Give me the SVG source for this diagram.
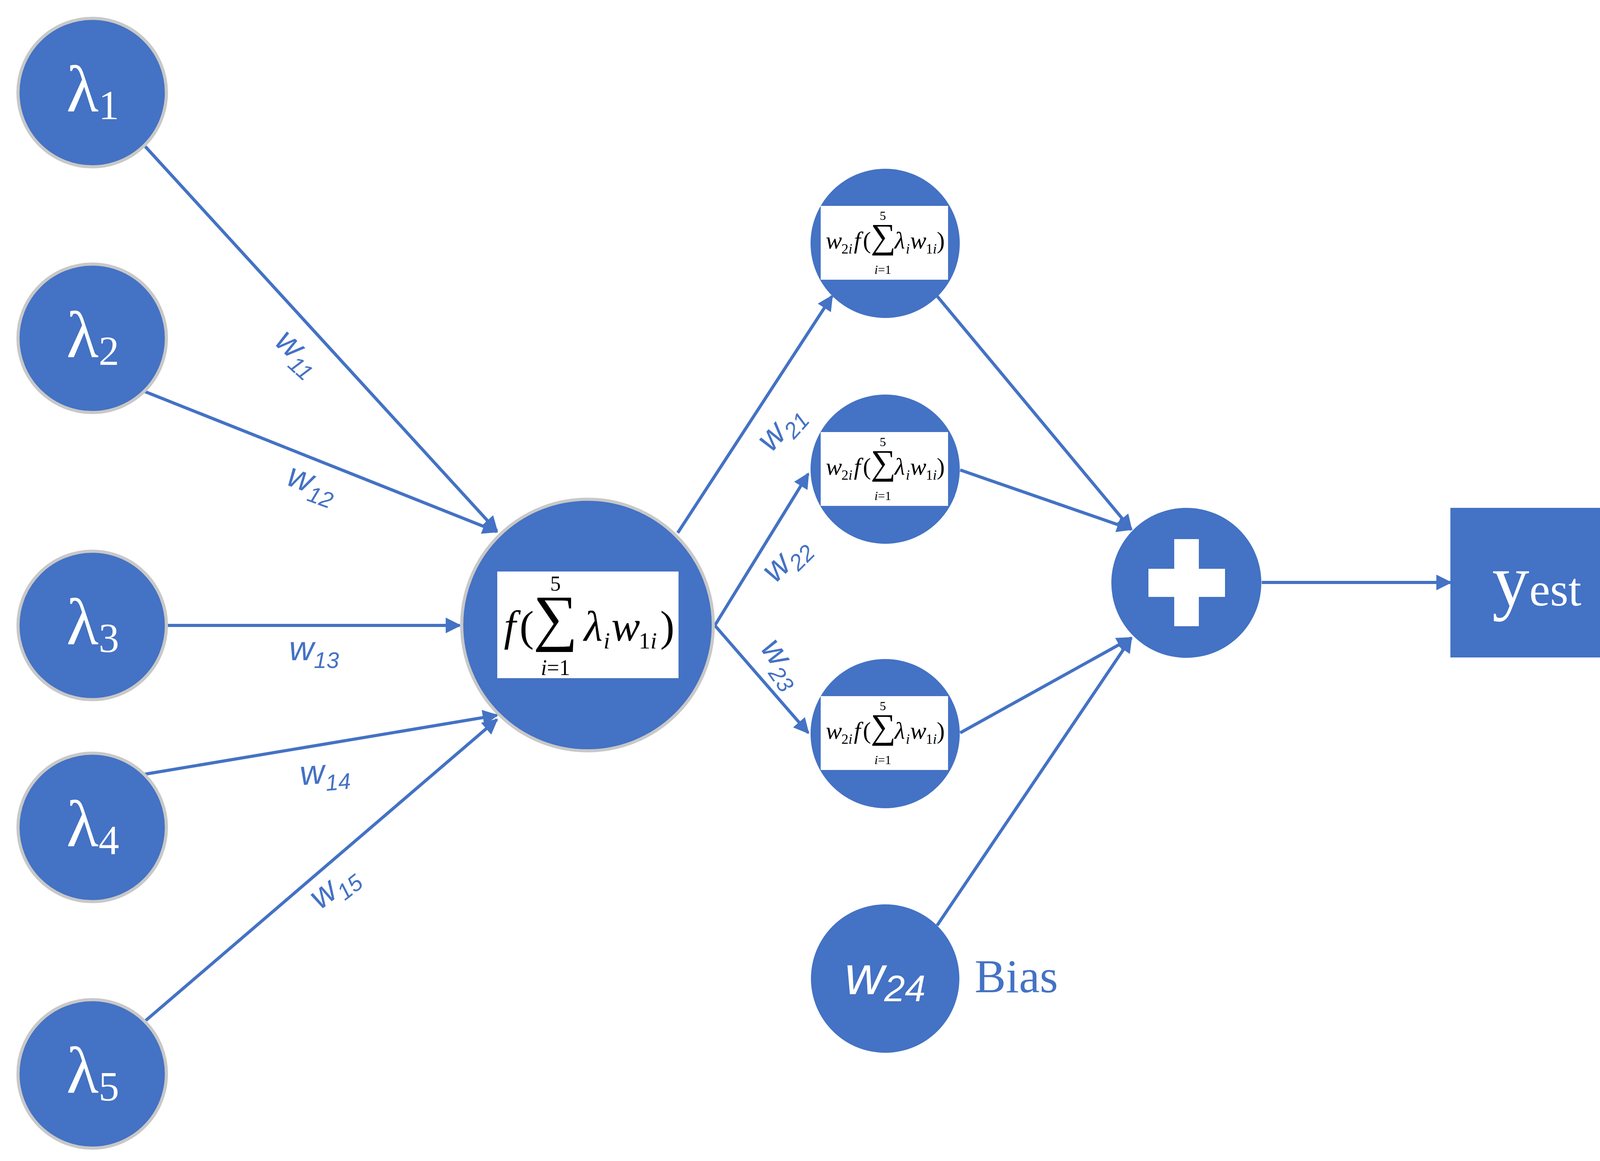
<svg xmlns="http://www.w3.org/2000/svg" xmlns:xlink="http://www.w3.org/1999/xlink" width="4268" height="2972" viewBox="0 0 4268 2972">
<style>
.n{fill:#4472C4}
.ns{fill:#4472C4;stroke:#C8C8C8;stroke-width:8}
.e{stroke:#4472C4;stroke-width:8;fill:none;marker-end:url(#ah)}
.lam{font-family:"Liberation Serif",serif;fill:#fff;font-size:170px}
.lsub{font-size:105px}
.wl{font-family:"Liberation Sans",sans-serif;font-style:italic;fill:#4472C4;font-size:88px}
.ws{font-size:58px}
.fm{font-family:"Liberation Serif",serif;fill:#000}
.it{font-style:italic}
</style>
<defs>
<marker id="ah" viewBox="0 0 10 10" refX="9" refY="5" markerWidth="50" markerHeight="40" markerUnits="userSpaceOnUse" orient="auto"><path d="M0,0 L10,5 L0,10 z" fill="#4472C4"/></marker>
<g id="hf">
<rect x="-163" y="-94" width="326" height="189" fill="#fff"/>
<text class="fm it" x="-150" y="15" font-size="62">w</text>
<text class="fm" x="-110" y="28" font-size="36">2<tspan class="it">i</tspan></text>
<text class="fm it" x="-78" y="15" font-size="62">f</text>
<text class="fm" x="-55" y="15" font-size="62">(</text>
<text class="fm" x="-35" y="14" font-size="90">∑</text>
<text class="fm" x="-4" y="-58" font-size="32" text-anchor="middle">5</text>
<text class="fm" x="-4" y="80" font-size="32" text-anchor="middle"><tspan class="it">i</tspan>=1</text>
<text class="fm it" x="26" y="15" font-size="62">λ</text>
<text class="fm it" x="55" y="28" font-size="36">i</text>
<text class="fm it" x="66" y="15" font-size="62">w</text>
<text class="fm" x="106" y="28" font-size="36">1<tspan class="it">i</tspan></text>
<text class="fm" x="134" y="15" font-size="62">)</text>
</g>
</defs>
<rect width="4268" height="2972" fill="#fff"/>
<g id="connectors">
<line class="e" x1="370" y1="373" x2="1272" y2="1359"/>
<line class="e" x1="370" y1="1002" x2="1272" y2="1361"/>
<line class="e" x1="426" y1="1601" x2="1177" y2="1601"/>
<line class="e" x1="370" y1="1982" x2="1272" y2="1831"/>
<line class="e" x1="370" y1="2615" x2="1272" y2="1842"/>
<line class="e" x1="1735" y1="1364" x2="2130" y2="758"/>
<line class="e" x1="1830" y1="1601" x2="2069" y2="1213"/>
<line class="e" x1="1830" y1="1601" x2="2069" y2="1876"/>
<line class="e" x1="2399" y1="758" x2="2896" y2="1355"/>
<line class="e" x1="2458" y1="1203" x2="2896" y2="1355"/>
<line class="e" x1="2458" y1="1876" x2="2896" y2="1633"/>
<line class="e" x1="2399" y1="2369" x2="2896" y2="1633"/>
<line class="e" x1="3230" y1="1491" x2="3713" y2="1491"/>
</g>
<g id="labels">
<text class="wl" transform="translate(700,880) rotate(42)">w<tspan class="ws" dy="20">11</tspan></text>
<text class="wl" transform="translate(730,1240) rotate(20)">w<tspan class="ws" dy="20">12</tspan></text>
<text class="wl" transform="translate(740,1690)">w<tspan class="ws" dy="20">13</tspan></text>
<text class="wl" transform="translate(770,2010) rotate(-5)">w<tspan class="ws" dy="20">14</tspan></text>
<text class="wl" transform="translate(820,2330) rotate(-38)">w<tspan class="ws" dy="20">15</tspan></text>
<text class="wl" transform="translate(1975,1160) rotate(-48)">w<tspan class="ws" dy="20">21</tspan></text>
<text class="wl" transform="translate(1985,1495) rotate(-45)">w<tspan class="ws" dy="20">22</tspan></text>
<text class="wl" transform="translate(1945,1660) rotate(55)">w<tspan class="ws" dy="20">23</tspan></text>
</g>
<g id="lambda1"><circle class="ns" cx="236" cy="237" r="190"/><text class="lam" x="170" y="285">λ<tspan class="lsub" dy="20">1</tspan></text></g>
<g id="lambda2"><circle class="ns" cx="236" cy="866" r="190"/><text class="lam" x="170" y="914">λ<tspan class="lsub" dy="20">2</tspan></text></g>
<g id="lambda3"><circle class="ns" cx="236" cy="1601" r="190"/><text class="lam" x="170" y="1649">λ<tspan class="lsub" dy="20">3</tspan></text></g>
<g id="lambda4"><circle class="ns" cx="236" cy="2118" r="190"/><text class="lam" x="170" y="2166">λ<tspan class="lsub" dy="20">4</tspan></text></g>
<g id="lambda5"><circle class="ns" cx="236" cy="2749" r="190"/><text class="lam" x="170" y="2797">λ<tspan class="lsub" dy="20">5</tspan></text></g>
<g id="hidden">
<circle class="ns" cx="1504" cy="1600" r="322"/>
<rect x="1273" y="1463" width="464" height="273" fill="#fff"/>
<text class="fm it" x="1290" y="1640" font-size="110">f</text>
<text class="fm" x="1330" y="1640" font-size="110">(</text>
<text class="fm" x="1365" y="1635" font-size="160">∑</text>
<text class="fm" x="1422" y="1512" font-size="54" text-anchor="middle">5</text>
<text class="fm" x="1422" y="1728" font-size="56" text-anchor="middle"><tspan class="it">i</tspan>=1</text>
<text class="fm it" x="1495" y="1640" font-size="110">λ</text>
<text class="fm it" x="1545" y="1660" font-size="60">i</text>
<text class="fm it" x="1565" y="1640" font-size="110">w</text>
<text class="fm" x="1635" y="1660" font-size="60">1<tspan class="it">i</tspan></text>
<text class="fm" x="1690" y="1640" font-size="110">)</text>
</g>
<g id="out1"><circle class="n" cx="2266" cy="623" r="191"/><use xlink:href="#hf" href="#hf" x="2264" y="621"/></g>
<g id="out2"><circle class="n" cx="2266" cy="1201" r="191"/><use xlink:href="#hf" href="#hf" x="2264" y="1200"/></g>
<g id="out3"><circle class="n" cx="2266" cy="1878" r="191"/><use xlink:href="#hf" href="#hf" x="2264" y="1876"/></g>
<g id="bias"><circle class="n" cx="2266" cy="2505" r="190"/>
<text x="2266" y="2545" text-anchor="middle" font-family="Liberation Sans, sans-serif" font-style="italic" fill="#fff" font-size="140">w<tspan font-size="95" dy="18">24</tspan></text>
<text x="2495" y="2540" font-family="Liberation Serif, serif" fill="#4472C4" font-size="120">Bias</text>
</g>
<g id="sum"><circle class="n" cx="3037" cy="1492" r="192"/>
<rect x="2940" y="1456" width="196" height="72" fill="#fff"/>
<rect x="3006" y="1380" width="63" height="223" fill="#fff"/>
</g>
<g id="yest"><rect class="n" x="3713" y="1300" width="517" height="383"/>
<text x="3820" y="1550" font-family="Liberation Serif, serif" fill="#fff" font-size="190">y<tspan font-size="120">est</tspan></text>
</g>
</svg>
